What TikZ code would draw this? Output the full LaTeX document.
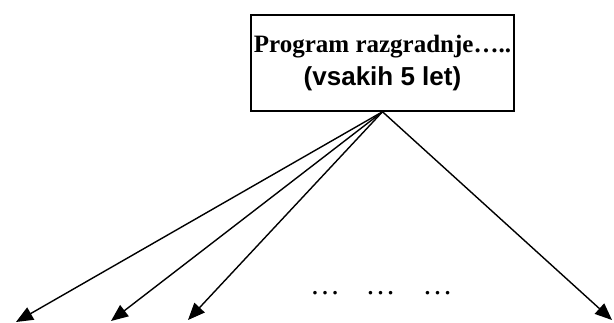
\documentclass[tikz,border=0pt]{standalone}
\usepackage{fontspec}
\setmainfont{Liberation Serif}
\newfontfamily\arialfont{Liberation Sans}
\usetikzlibrary{arrows.meta}

\begin{document}
\begin{tikzpicture}[
  x=1pt, y=-1pt,
  box/.style={draw,line width=1.5pt,align=center,minimum width=263pt,minimum height=96pt,inner sep=0pt,
    font=\fontsize{25}{33}\selectfont\bfseries},
  arr/.style={-{Triangle[length=17pt,width=14pt]},line width=1.4pt},
  dots/.style={anchor=base,inner sep=0pt,font=\fontsize{30}{34}\selectfont}
]
\useasboundingbox (0,0) rectangle (614,323);

\node[box] (prog) at (382.5,63) {Program razgradnje…..\\{\arialfont\fontsize{26}{33}\selectfont (vsakih 5 let)}};

\coordinate (t1) at (16,322);
\coordinate (t2) at (111,321);
\coordinate (t3) at (188,320);
\coordinate (t4) at (612,320);

\node[dots] (d1) at (325,295) {…};
\node[dots] (d2) at (380.5,295) {…};
\node[dots] (d3) at (437.5,295) {…};

\draw[arr] (prog.south) -- (t1);
\draw[arr] (prog.south) -- (t2);
\draw[arr] (prog.south) -- (t3);
\draw[arr] (prog.south) -- (t4);
\end{tikzpicture}
\end{document}
